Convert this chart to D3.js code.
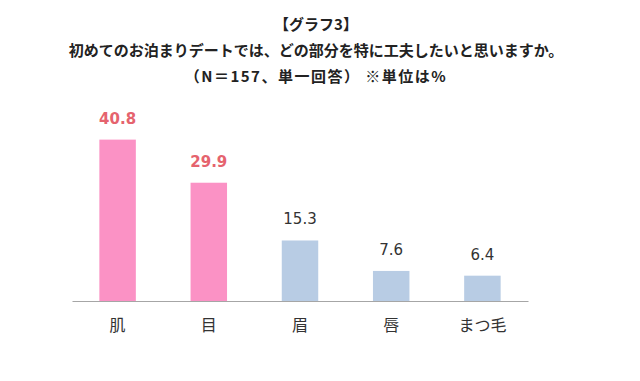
<!DOCTYPE html>
<html>
<head>
<meta charset="utf-8">
<script src="https://cdn.jsdelivr.net/npm/d3@7"></script>
<style>
  body { margin: 0; background: #fff; }
  svg { display: block; }
</style>
</head>
<body>
<div id="chart"></div>
<script>
var categories = ["肌", "目", "眉", "唇", "まつ毛"];
var values = [40.8, 29.9, 15.3, 7.6, 6.4];
var highlight = [true, true, false, false, false];
var titleLines = ["【グラフ3】", "初めてのお泊まりデートでは、どの部分を特に工夫したいと思いますか。", "（N＝157、単一回答） ※単位は%"];

var width = 640, height = 381;
var margin = {left: 72, right: 112, top: 123, bottom: 80};

var svg = d3.select("#chart").append("svg")
  .attr("width", width)
  .attr("height", height);

// titles
svg.append("g")
  .selectAll("text")
  .data(titleLines)
  .enter().append("text")
  .attr("x", 316)
  .attr("y", function (d, i) { return 30 + i * 26; })
  .attr("text-anchor", "middle")
  .attr("font-family", "'Noto Sans CJK JP', sans-serif")
  .attr("font-weight", "bold")
  .attr("font-size", "15px")
  .attr("letter-spacing", function (d, i) { return i == 2 ? "1.5px" : "0px"; })
  .attr("fill", "#222")
  .text(function (d) { return d; });

var x = d3.scaleBand()
  .domain(categories)
  .range([margin.left, width - margin.right])
  .paddingInner(0.6)
  .paddingOuter(0.3);

var y = d3.scaleLinear()
  .domain([0, 45])
  .range([301, margin.top]);

var data = categories.map(function (c, i) {
  return {name: c, value: values[i], hi: highlight[i]};
});

svg.append("g")
  .selectAll("rect")
  .data(data)
  .enter().append("rect")
  .attr("x", function (d) { return x(d.name); })
  .attr("y", function (d) { return y(d.value); })
  .attr("width", x.bandwidth())
  .attr("height", function (d) { return y(0) - y(d.value); })
  .attr("fill", function (d) { return d.hi ? "#fb92c5" : "#b8cce4"; });

// axis line
var axis = svg.append("g")
  .attr("transform", "translate(0," + y(0) + ")")
  .call(d3.axisBottom(x).tickSize(0).tickPadding(19));
axis.select(".domain").attr("stroke", "#a6a6a6").attr("stroke-width", 1.2);
axis.selectAll(".tick text")
  .attr("font-family", "'Noto Sans CJK JP', sans-serif")
  .attr("font-size", "16px")
  .attr("fill", "#333");

// value labels
svg.append("g")
  .selectAll("text")
  .data(data)
  .enter().append("text")
  .attr("x", function (d) { return x(d.name) + x.bandwidth() / 2; })
  .attr("y", function (d) { return y(d.value) - 16; })
  .attr("text-anchor", "middle")
  .attr("font-family", "'DejaVu Sans', sans-serif")
  .attr("font-weight", function (d) { return d.hi ? "bold" : "normal"; })
  .attr("font-size", "15px")
  .attr("fill", function (d) { return d.hi ? "#e5636e" : "#333"; })
  .text(function (d) { return d.value.toFixed(1); });
</script>
</body>
</html>
